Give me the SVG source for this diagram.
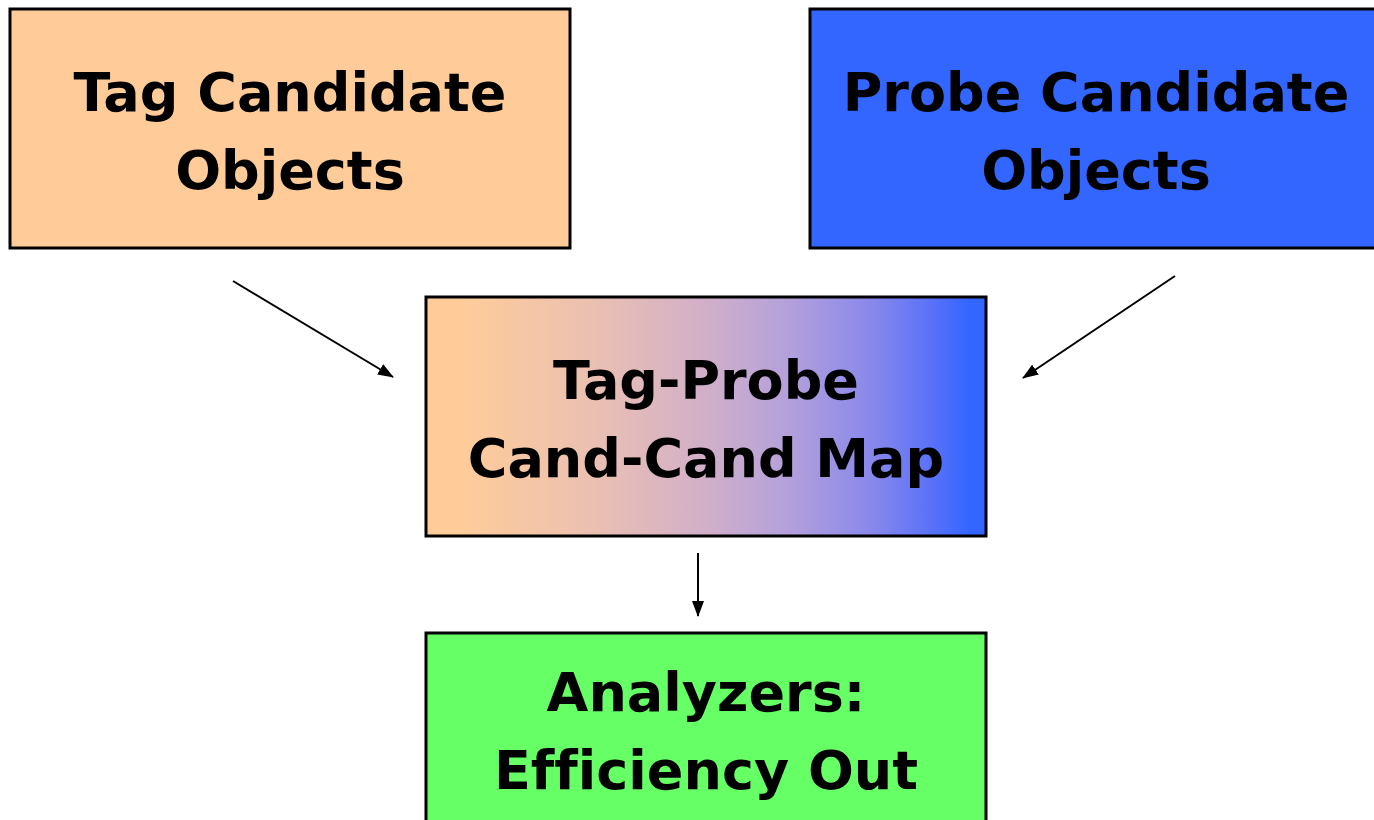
<svg xmlns="http://www.w3.org/2000/svg" width="1374" height="820" viewBox="0 0 1374 820">
<style>
.box{stroke:#000;stroke-width:3}
.t{font-family:"DejaVu Sans","Liberation Sans",sans-serif;font-weight:bold;font-size:54px;fill:#000;text-anchor:middle;font-variant-ligatures:none}
.c{stroke:#000;stroke-width:2;fill:none;marker-end:url(#ah)}
</style>
<defs>
<linearGradient id="g" x1="0" y1="0" x2="1" y2="0">
<stop offset="0" stop-color="#FFCC99"/>
<stop offset="0.06" stop-color="#FFCC99"/>
<stop offset="0.3" stop-color="#EBC0B2"/>
<stop offset="0.5" stop-color="#D1AFC9"/>
<stop offset="0.65" stop-color="#B3A0DB"/>
<stop offset="0.8" stop-color="#8787EC"/>
<stop offset="0.9" stop-color="#5B72F7"/>
<stop offset="0.97" stop-color="#3366FF"/>
<stop offset="1" stop-color="#3366FF"/>
</linearGradient>
<marker id="ah" viewBox="0 0 16 12" refX="15" refY="6" markerWidth="16" markerHeight="12" markerUnits="userSpaceOnUse" orient="auto">
<path d="M0,0 L16,6 L0,12 z" fill="#000"/>
</marker>
</defs>
<rect width="1374" height="820" fill="#fff"/>
<g id="tag">
<rect class="box" x="10" y="9" width="560" height="239" fill="#FFCC99"/>
<text class="t" x="290" y="111">Tag Candidate</text>
<text class="t" x="290" y="189">Objects</text>
</g>
<g id="probe">
<rect class="box" x="810" y="9" width="572" height="239" fill="#3366FF"/>
<text class="t" x="1096" y="111">Probe Candidate</text>
<text class="t" x="1096" y="189">Objects</text>
</g>
<g id="map">
<rect class="box" x="426" y="297" width="560" height="239" fill="url(#g)"/>
<text class="t" x="706" y="399">Tag-Probe</text>
<text class="t" x="706" y="477">Cand-Cand Map</text>
</g>
<g id="analyzers">
<rect class="box" x="426" y="633" width="560" height="200" fill="#66FF66"/>
<text class="t" x="706" y="711">Analyzers:</text>
<text class="t" x="706" y="789">Efficiency Out</text>
</g>
<g id="connectors">
<line class="c" x1="233" y1="281" x2="393" y2="377"/>
<line class="c" x1="1175" y1="276" x2="1023" y2="378"/>
<line class="c" x1="698" y1="553" x2="698" y2="616"/>
</g>
</svg>
